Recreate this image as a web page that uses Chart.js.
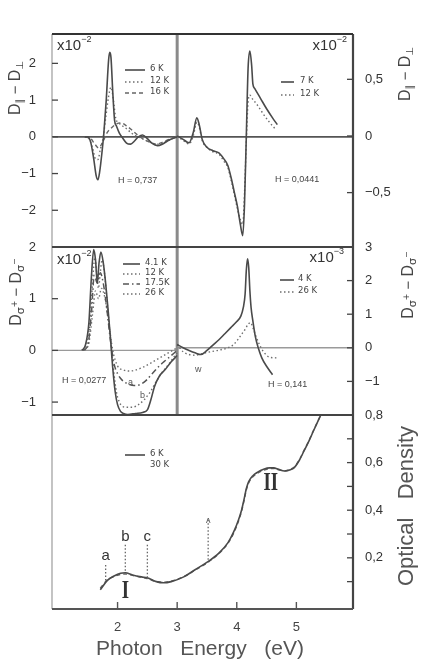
<!DOCTYPE html>
<html><head><meta charset="utf-8">
<script src="https://cdn.jsdelivr.net/npm/chart.js@4"></script>
<style>
html,body{margin:0;padding:0;background:#fff;width:436px;height:667px;overflow:hidden}
canvas{position:absolute;left:0;top:0}
</style></head>
<body>
<canvas id="cTop" width="436" height="667"></canvas>
<canvas id="cMid" width="436" height="667"></canvas>
<canvas id="cBot" width="436" height="667"></canvas>
<script>
// ---------------- DATA ----------------
const energyRange = [0.9, 5.95];
const energyTicks = [2, 3, 4, 5];

// Top panel: D_par - D_perp  (left half x10^-2, right half x10^-2)
const topLeftRange = [-3, 2.8];
const topLeftTicks = [-2, -1, 0, 1, 2];
const topRightRange = [-0.98, 0.9];
const topRightTicks = [-0.5, 0, 0.5];

const tl6K_x  = [1.45,1.50,1.55,1.60,1.64,1.67,1.70,1.74,1.77,1.81,1.85,1.87,1.89,1.92,1.95,1.98,2.03,2.08,2.15,2.22,2.28,2.35,2.42,2.50,2.58,2.67,2.75,2.85,2.95,3.00];
const tl6K_y  = [0,0,-0.15,-0.6,-1.05,-1.17,-0.95,-0.4,0.1,1.0,2.1,2.3,2.15,1.2,0.45,0.3,0.1,-0.02,-0.17,-0.2,-0.12,0.0,0.05,-0.05,-0.18,-0.24,-0.2,-0.1,-0.03,0];
const tl12K_x = [1.45,1.52,1.58,1.63,1.67,1.71,1.76,1.80,1.85,1.89,1.93,1.97,2.02,2.08,2.15,2.22,2.30,2.38,2.45,2.55,2.65,2.75,2.85,2.95,3.00];
const tl12K_y = [0,-0.05,-0.3,-0.6,-0.62,-0.35,0.0,0.5,1.1,1.35,1.0,0.5,0.38,0.3,0.22,0.12,0.03,-0.02,-0.08,-0.15,-0.2,-0.18,-0.1,-0.03,0];
const tl16K_x = [1.45,1.55,1.62,1.68,1.75,1.82,1.90,1.98,2.05,2.15,2.25,2.35,2.45,2.55,2.65,2.75,2.85,2.95,3.00];
const tl16K_y = [0,-0.05,-0.2,-0.3,-0.15,0.1,0.25,0.35,0.38,0.3,0.17,0.03,-0.08,-0.15,-0.2,-0.15,-0.08,-0.02,0];

const tr7K_x  = [3.00,3.10,3.20,3.27,3.33,3.37,3.42,3.50,3.60,3.70,3.78,3.85,3.91,3.96,4.01,4.06,4.10,4.13,4.16,4.19,4.22,4.25,4.27,4.30,4.40,4.50,4.60,4.68];
const tr7K_y  = [0,-0.03,-0.06,0.03,0.16,0.1,-0.03,-0.1,-0.13,-0.15,-0.2,-0.26,-0.38,-0.5,-0.62,-0.78,-0.88,-0.6,0.0,0.6,0.75,0.62,0.46,0.42,0.33,0.24,0.16,0.1];
const tr12K_x = [3.00,3.10,3.20,3.27,3.33,3.37,3.42,3.50,3.60,3.70,3.78,3.85,3.91,3.96,4.01,4.06,4.10,4.13,4.16,4.19,4.22,4.26,4.35,4.45,4.55,4.65];
const tr12K_y = [0,-0.04,-0.07,0.0,0.12,0.08,-0.04,-0.1,-0.14,-0.16,-0.22,-0.28,-0.4,-0.52,-0.64,-0.74,-0.78,-0.5,-0.05,0.3,0.36,0.33,0.27,0.19,0.12,0.06];

// Middle panel: D_sigma+ - D_sigma-  (left half x10^-2, right half x10^-3)
const midLeftRange = [-1.25, 2];
const midLeftTicks = [-1, 0, 1, 2];
const midRightRange = [-2, 3];
const midRightTicks = [-1, 0, 1, 2, 3];

const ml41K_x = [1.40,1.46,1.52,1.56,1.60,1.63,1.66,1.69,1.72,1.76,1.80,1.84,1.88,1.92,1.96,2.00,2.05,2.10,2.17,2.30,2.42,2.50,2.56,2.62,2.70,2.80,2.90,3.00];
const ml41K_y = [0,0.1,0.55,1.4,1.95,1.75,1.3,1.7,1.9,1.7,1.3,0.8,0.25,-0.35,-0.8,-1.05,-1.18,-1.22,-1.24,-1.22,-1.2,-1.15,-0.95,-0.7,-0.5,-0.37,-0.22,-0.1];
const ml12K_x = [1.42,1.48,1.54,1.58,1.62,1.65,1.68,1.71,1.74,1.78,1.82,1.86,1.90,1.94,1.98,2.03,2.08,2.15,2.25,2.35,2.45,2.55,2.65,2.75,2.85,2.95,3.00];
const ml12K_y = [0,0.1,0.6,1.3,1.8,1.5,1.2,1.5,1.75,1.5,1.0,0.5,0.0,-0.45,-0.8,-1.0,-1.08,-1.1,-1.1,-1.05,-0.95,-0.8,-0.6,-0.42,-0.28,-0.12,-0.05];
const ml175K_x = [1.42,1.50,1.56,1.61,1.66,1.71,1.76,1.82,1.88,1.94,2.00,2.08,2.18,2.28,2.38,2.48,2.58,2.70,2.82,2.95,3.00];
const ml175K_y = [0,0.1,0.7,1.45,1.3,1.5,1.3,0.8,0.2,-0.25,-0.45,-0.58,-0.65,-0.68,-0.66,-0.58,-0.45,-0.3,-0.18,-0.05,0];
const ml26K_x = [1.45,1.52,1.58,1.63,1.68,1.73,1.79,1.85,1.92,2.00,2.10,2.20,2.30,2.42,2.55,2.70,2.85,3.00];
const ml26K_y = [0,0.15,0.7,1.15,1.0,1.2,1.0,0.55,0.0,-0.3,-0.38,-0.4,-0.38,-0.33,-0.25,-0.15,-0.05,0.05];

const mr4K_x  = [3.00,3.10,3.20,3.30,3.40,3.50,3.60,3.70,3.80,3.90,4.00,4.07,4.11,4.14,4.16,4.18,4.20,4.22,4.24,4.27,4.31,4.36,4.42,4.50,4.60];
const mr4K_y  = [0.1,0.0,-0.08,-0.15,-0.2,-0.08,0.08,0.24,0.42,0.6,0.78,0.95,1.2,1.6,2.3,2.65,2.4,1.7,1.2,0.8,0.35,0.0,-0.3,-0.55,-0.8];
const mr26K_x = [3.00,3.10,3.20,3.30,3.40,3.55,3.70,3.85,3.95,4.02,4.08,4.14,4.19,4.23,4.27,4.32,4.38,4.45,4.55,4.68];
const mr26K_y = [0.1,-0.12,-0.2,-0.22,-0.18,-0.12,-0.07,0.0,0.1,0.25,0.4,0.55,0.7,0.75,0.6,0.35,0.1,-0.12,-0.28,-0.3];

// Bottom panel: optical density
const odRange = [-0.015, 0.8];
const odTicks = [0.1, 0.2, 0.3, 0.4, 0.5, 0.6, 0.7, 0.8];
const odLabeled = [0.2, 0.4, 0.6, 0.8];
const od6K_x  = [1.71,1.83,1.95,2.05,2.13,2.25,2.40,2.50,2.65,2.77,2.90,3.11,3.30,3.51,3.70,3.85,3.95,4.03,4.08,4.12,4.16,4.20,4.27,4.35,4.45,4.55,4.62,4.70,4.80,4.90,4.96,5.05,5.13,5.21,5.29,5.41];
const od6K_y  = [0.066,0.105,0.125,0.135,0.137,0.128,0.12,0.116,0.1,0.095,0.1,0.12,0.15,0.183,0.22,0.263,0.31,0.36,0.40,0.443,0.49,0.52,0.545,0.56,0.572,0.578,0.578,0.572,0.565,0.57,0.578,0.61,0.65,0.69,0.735,0.8];
const od30K_x = [1.71,1.83,1.95,2.05,2.13,2.25,2.40,2.50,2.65,2.77,2.90,3.11,3.30,3.51,3.70,3.85,3.95,4.03,4.08,4.12,4.16,4.20,4.27,4.35,4.45,4.55,4.62,4.70,4.80,4.90,4.96,5.05,5.13,5.21,5.29,5.41];
const od30K_y = [0.072,0.108,0.122,0.13,0.132,0.126,0.118,0.113,0.1,0.097,0.102,0.121,0.148,0.18,0.218,0.26,0.305,0.355,0.395,0.438,0.485,0.515,0.54,0.556,0.568,0.574,0.575,0.57,0.565,0.572,0.58,0.612,0.652,0.692,0.737,0.8];

// Marker lines a, b, c and arrow (bottom panel)
const markX      = [1.80, 2.13, 2.50, 3.52];
const markTop    = [0.17, 0.255, 0.255, 0.36];
const markBottom = [0.10, 0.137, 0.116, 0.183];
const markLabel  = ['a', 'b', 'c', ''];
const markLabelY = [0.21, 0.29, 0.29, 0];
const romanX   = [2.13, 4.57];
const romanY   = [0.06, 0.51];
const romanTxt = ['I', 'II'];

// ---------------- HELPERS ----------------
const SANS = '"Liberation Sans", Arial, sans-serif';
const S_SOLID = {c:'#4a4a4a', w:1.6, d:[]};
const S_DOT   = {c:'#6e6e6e', w:1.4, d:[1.5,2.5]};
const S_DASH  = {c:'#666', w:1.4, d:[4,3]};
const S_DDOT  = {c:'#555', w:1.5, d:[6,3,1.5,3]};

function pts(xs, ys){ return xs.map((x,i)=>({x:x, y:ys[i]})); }
function ds(xs, ys, axis, st){
  return {data:pts(xs,ys), yAxisID:axis, borderColor:st.c, borderWidth:st.w, borderDash:st.d,
          pointRadius:0, cubicInterpolationMode:'monotone', fill:false};
}
function fmt(v){ return (v<0?'\u2212':'') + String(Math.abs(v)).replace('.', ','); }
function yScale(pos, range, ticks, labeled){
  return {type:'linear', position:pos, min:range[0], max:range[1],
    afterBuildTicks:s=>{ s.ticks = ticks.map(v=>({value:v})); },
    afterFit:s=>{ s.width = pos==='left' ? 52 : 40; },
    grid:{display:false}, border:{display:false},
    ticks:{color:'#333', font:{family:SANS, size:13}, padding: pos==='left'?8:4,
      callback:v=> labeled.includes(v) ? fmt(v) : ''}
  };
}
function xScale(show){
  return {type:'linear', position:'bottom', min:energyRange[0], max:energyRange[1], display:show,
    afterBuildTicks:s=>{ s.ticks = energyTicks.map(v=>({value:v})); },
    afterFit:s=>{ s.height = show ? 58 : 0; },
    grid:{display:false}, border:{display:false},
    ticks:{color:'#444', font:{family:SANS, size:13}, padding:3, maxRotation:0, autoSkip:false,
      callback:v=>String(v)}
  };
}
function line(ctx, x1,y1,x2,y2, c, w, dash){
  ctx.save(); ctx.strokeStyle=c; ctx.lineWidth=w; ctx.setLineDash(dash||[]);
  ctx.beginPath(); ctx.moveTo(x1,y1); ctx.lineTo(x2,y2); ctx.stroke(); ctx.restore();
}
function inTicks(ctx, scale, vals, side, len){
  vals.forEach(v=>{
    const y = scale.getPixelForValue(v);
    if(side==='left') line(ctx, scale.right, y, scale.right+len, y, '#444', 1.3);
    else line(ctx, scale.left, y, scale.left-len, y, '#444', 1.3);
  });
}
function rich(ctx, x, y, parts, rotate, align, color){
  ctx.save(); ctx.translate(x,y); if(rotate) ctx.rotate(-Math.PI/2);
  ctx.fillStyle = color || '#333'; ctx.textBaseline='middle';
  let total=0;
  parts.forEach(p=>{ ctx.font=p.f; p.w=ctx.measureText(p.t).width; total+=p.w; });
  let cx = align==='center' ? -total/2 : (align==='right' ? -total : 0);
  parts.forEach(p=>{ ctx.font=p.f; ctx.fillText(p.t, cx, p.dy||0); cx+=p.w; });
  ctx.restore();
}
function txt(ctx, s, x, y, size, color, align, font){
  ctx.save(); ctx.fillStyle=color||'#333'; ctx.textBaseline='middle'; ctx.textAlign=align||'left';
  ctx.font = size+'px '+(font||SANS); ctx.fillText(s,x,y); ctx.restore();
}
function legendItem(ctx, x1, x2, y, st, label, lx){
  line(ctx, x1, y, x2, y, st.c, st.w, st.d);
  txt(ctx, label, lx, y-1, 8.5, '#444', 'left', '"DejaVu Sans", sans-serif');
}
function xTen(ctx, x, y, exp, align){
  const parts = [{t:'x10', f:'15px '+SANS},{t:exp, f:'9px '+SANS, dy:-6}];
  rich(ctx, x, y, parts, false, align||'left', '#333');
}
const T_PAR = [{t:'D',f:'16px '+SANS},{t:'\u2225',f:'10px "DejaVu Sans"',dy:4},{t:' \u2212 ',f:'15px '+SANS},{t:'D',f:'16px '+SANS},{t:'\u22A5',f:'10px "DejaVu Sans"',dy:4}];
const T_SIG = [{t:'D',f:'16px '+SANS},{t:'\u03C3',f:'11px "DejaVu Sans"',dy:4},{t:'+',f:'8px "DejaVu Sans"',dy:-2},{t:' \u2212 ',f:'15px '+SANS},{t:'D',f:'16px '+SANS},{t:'\u03C3',f:'11px "DejaVu Sans"',dy:4},{t:'\u2212',f:'8px "DejaVu Sans"',dy:-2}];

function frame(ctx, a, topDark){
  line(ctx, a.right, a.top, a.right, a.bottom, '#444', 2.2);
  line(ctx, a.left, a.top, a.left, a.bottom, '#b5b5b5', 1.6);
  line(ctx, a.left, a.top, a.right, a.top, topDark, 2.2);
  line(ctx, a.left, a.bottom, a.right, a.bottom, '#555', 2.2);
}

// ---------------- TOP CHART ----------------
new Chart(document.getElementById('cTop'), {
  type:'line',
  data:{datasets:[
    ds(tl6K_x, tl6K_y, 'yL', S_SOLID),
    ds(tl12K_x, tl12K_y, 'yL', S_DOT),
    ds(tl16K_x, tl16K_y, 'yL', S_DASH),
    ds(tr7K_x, tr7K_y, 'yR', S_SOLID),
    ds(tr12K_x, tr12K_y, 'yR', S_DOT)
  ]},
  options:{
    responsive:false, animation:false, events:[],
    layout:{padding:{left:0, right:43, top:34, bottom:667-247}},
    plugins:{legend:{display:false}, tooltip:{enabled:false}},
    scales:{ x:xScale(false), yL:yScale('left', topLeftRange, topLeftTicks, topLeftTicks),
             yR:yScale('right', topRightRange, topRightTicks, topRightTicks) }
  },
  plugins:[{
    id:'topDeco',
    beforeDatasetsDraw(chart){
      const ctx=chart.ctx, a=chart.chartArea, sx=chart.scales.x, yL=chart.scales.yL;
      const y0 = yL.getPixelForValue(0);
      line(ctx, a.left, y0, a.right, y0, '#555', 1.8);
      const xd = sx.getPixelForValue(3);
      line(ctx, xd, a.top, xd, a.bottom, '#8a8a8a', 3);
    },
    afterDraw(chart){
      const ctx=chart.ctx, a=chart.chartArea;
      frame(ctx, a, '#333');
      inTicks(ctx, chart.scales.yL, topLeftTicks, 'left', 6);
      inTicks(ctx, chart.scales.yR, topRightTicks, 'right', 6);
      xTen(ctx, 57, 46, '\u22122', 'left');
      xTen(ctx, 347, 46, '\u22122', 'right');
      legendItem(ctx, 125, 145, 70, S_SOLID, '6 K', 150);
      legendItem(ctx, 125, 145, 82, S_DOT, '12 K', 150);
      legendItem(ctx, 125, 145, 93, S_DASH, '16 K', 150);
      legendItem(ctx, 281, 294, 82, S_SOLID, '7 K', 300);
      legendItem(ctx, 281, 294, 95, S_DOT, '12 K', 300);
      txt(ctx, 'H = 0,737', 118, 181, 9, '#444');
      txt(ctx, 'H = 0,0441', 275, 180, 9, '#444');
      rich(ctx, 16, 88, T_PAR.map(p=>Object.assign({},p)), true, 'center', '#444');
      rich(ctx, 406, 74, T_PAR.map(p=>Object.assign({},p)), true, 'center', '#444');
    }
  }]
});

// ---------------- MIDDLE CHART ----------------
new Chart(document.getElementById('cMid'), {
  type:'line',
  data:{datasets:[
    ds(ml41K_x, ml41K_y, 'yL', S_SOLID),
    ds(ml12K_x, ml12K_y, 'yL', S_DOT),
    ds(ml175K_x, ml175K_y, 'yL', S_DDOT),
    ds(ml26K_x, ml26K_y, 'yL', S_DOT),
    ds(mr4K_x, mr4K_y, 'yR', S_SOLID),
    ds(mr26K_x, mr26K_y, 'yR', S_DOT)
  ]},
  options:{
    responsive:false, animation:false, events:[],
    layout:{padding:{left:0, right:43, top:247, bottom:667-415}},
    plugins:{legend:{display:false}, tooltip:{enabled:false}},
    scales:{ x:xScale(false), yL:yScale('left', midLeftRange, midLeftTicks, midLeftTicks),
             yR:yScale('right', midRightRange, midRightTicks, midRightTicks) }
  },
  plugins:[{
    id:'midDeco',
    beforeDatasetsDraw(chart){
      const ctx=chart.ctx, a=chart.chartArea, sx=chart.scales.x;
      const xd = sx.getPixelForValue(3);
      const yl0 = chart.scales.yL.getPixelForValue(0), yr0 = chart.scales.yR.getPixelForValue(0);
      line(ctx, a.left, yl0, xd, yl0, '#9a9a9a', 1.4);
      line(ctx, xd, yr0, a.right, yr0, '#9a9a9a', 1.4);
      line(ctx, xd, a.top, xd, a.bottom, '#8a8a8a', 3);
    },
    afterDraw(chart){
      const ctx=chart.ctx, a=chart.chartArea;
      frame(ctx, a, '#444');
      inTicks(ctx, chart.scales.yL, midLeftTicks, 'left', 6);
      inTicks(ctx, chart.scales.yR, midRightTicks, 'right', 6);
      xTen(ctx, 57, 260, '\u22122', 'left');
      xTen(ctx, 344, 258, '\u22123', 'right');
      legendItem(ctx, 123, 140, 264, S_SOLID, '4.1 K', 145);
      legendItem(ctx, 123, 140, 274, S_DOT, '12 K', 145);
      legendItem(ctx, 123, 140, 284, S_DDOT, '17.5K', 145);
      legendItem(ctx, 123, 140, 294, S_DOT, '26 K', 145);
      legendItem(ctx, 280, 294, 280, S_SOLID, '4 K', 298);
      legendItem(ctx, 280, 294, 292, S_DOT, '26 K', 298);
      txt(ctx, 'H = 0,0277', 62, 381, 9, '#444');
      txt(ctx, 'a', 128, 383, 9, '#555');
      txt(ctx, 'b', 140, 396, 9, '#555');
      txt(ctx, 'w', 195, 370, 9, '#555');
      txt(ctx, 'H = 0,141', 268, 385, 9, '#444');
      rich(ctx, 17, 292, T_SIG.map(p=>Object.assign({},p)), true, 'center', '#444');
      rich(ctx, 409, 285, T_SIG.map(p=>Object.assign({},p)), true, 'center', '#444');
    }
  }]
});

// ---------------- BOTTOM CHART ----------------
new Chart(document.getElementById('cBot'), {
  type:'line',
  data:{datasets:[
    ds(od6K_x, od6K_y, 'yR', S_SOLID),
    ds(od30K_x, od30K_y, 'yR', S_DASH)
  ]},
  options:{
    responsive:false, animation:false, events:[],
    layout:{padding:{left:52, right:43, top:415, bottom:0}},
    plugins:{legend:{display:false}, tooltip:{enabled:false}},
    scales:{ x:xScale(true), yR:yScale('right', odRange, odTicks, odLabeled) }
  },
  plugins:[{
    id:'botDeco',
    afterDatasetsDraw(chart){
      const ctx=chart.ctx, sx=chart.scales.x, sy=chart.scales.yR;
      markX.forEach((x,i)=>{
        const px = sx.getPixelForValue(x);
        line(ctx, px, sy.getPixelForValue(markTop[i]), px, sy.getPixelForValue(markBottom[i]), '#666', 1.3, [1.5,2]);
        if(markLabel[i]) txt(ctx, markLabel[i], px, sy.getPixelForValue(markLabelY[i]), 15, '#333', 'center');
        else txt(ctx, '\u028C', px, sy.getPixelForValue(markTop[i])+1, 9, '#555', 'center');
      });
      romanTxt.forEach((t,i)=>{
        const px = sx.getPixelForValue(romanX[i]), py = sy.getPixelForValue(romanY[i]);
        ctx.save(); ctx.translate(px, py); ctx.scale(0.75, 1);
        ctx.fillStyle='#333'; ctx.textAlign='center'; ctx.textBaseline='middle';
        ctx.font='bold 25px "Liberation Serif", "DejaVu Serif", serif';
        ctx.fillText(t, 0, 0); ctx.restore();
      });
    },
    afterDraw(chart){
      const ctx=chart.ctx, a=chart.chartArea, sx=chart.scales.x;
      frame(ctx, a, '#444');
      inTicks(ctx, chart.scales.yR, odTicks, 'right', 6);
      energyTicks.forEach(v=>{ const px=sx.getPixelForValue(v); line(ctx, px, a.bottom, px, a.bottom-7, '#555', 1.4); });
      legendItem(ctx, 125, 145, 455, S_SOLID, '6 K', 150);
      txt(ctx, '30 K', 150, 465, 8.5, '#444', 'left', '"DejaVu Sans", sans-serif');
      txt(ctx, 'Photon   Energy   (eV)', 200, 649, 21, '#555', 'center');
      rich(ctx, 407, 506, [{t:'Optical   Density', f:'22px '+SANS}], true, 'center', '#555');
    }
  }]
});
</script>
</body></html>
